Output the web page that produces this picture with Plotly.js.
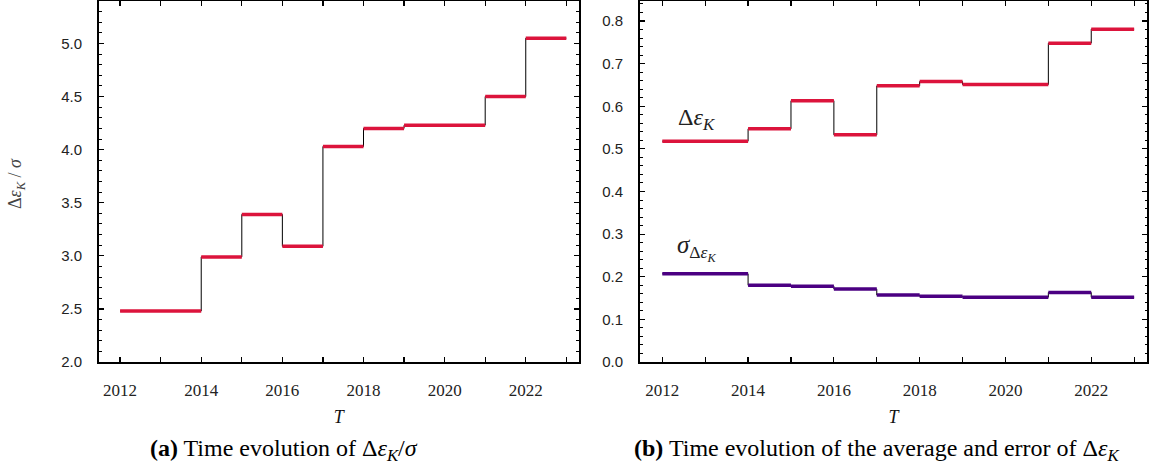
<!DOCTYPE html>
<html>
<head>
<meta charset="utf-8">
<script src="https://cdn.plot.ly/plotly-3.0.1.min.js"></script>
<style>html,body{margin:0;padding:0;background:#fff;}#chart{width:1150px;height:473px;}</style>
</head>
<body>
<div id="chart"></div>
<script>
// Segment edges (years) and values of each constant segment
const edges = [2012, 2014, 2015, 2016, 2017, 2018, 2019, 2021, 2022, 2023];
const ratioValues = [2.48, 2.99, 3.39, 3.09, 4.03, 4.20, 4.23, 4.50, 5.05];     // Δε_K/σ
const avgValues = [0.518, 0.547, 0.613, 0.533, 0.648, 0.658, 0.651, 0.748, 0.781]; // Δε_K
const errValues = [0.207, 0.180, 0.178, 0.171, 0.157, 0.154, 0.152, 0.163, 0.152]; // σ_Δε_K
const xTickVals = [2012, 2014, 2016, 2018, 2020, 2022];
const xTickText = ['2012', '2014', '2016', '2018', '2020', '2022'];

const RED = '#dc143c';
const PURPLE = '#4b0082';
const SERIF = 'Liberation Serif';

function stepTrace(vals, xa, ya) {
  return {
    x: edges.slice(), y: vals.concat([vals[vals.length - 1]]),
    xaxis: xa, yaxis: ya, mode: 'lines', line: {shape: 'hv', color: '#000', width: 1},
    hoverinfo: 'skip', showlegend: false
  };
}
function segTrace(vals, color, xa, ya) {
  const xs = [], ys = [];
  for (let i = 0; i < vals.length; i++) {
    xs.push(edges[i], edges[i + 1], null);
    ys.push(vals[i], vals[i], null);
  }
  return {x: xs, y: ys, xaxis: xa, yaxis: ya, mode: 'lines',
    line: {color: color, width: 3.5}, hoverinfo: 'skip', showlegend: false, connectgaps: false};
}

const data = [
  stepTrace(ratioValues, 'x', 'y'), segTrace(ratioValues, RED, 'x', 'y'),
  stepTrace(avgValues, 'x2', 'y2'), segTrace(avgValues, RED, 'x2', 'y2'),
  stepTrace(errValues, 'x2', 'y2'), segTrace(errValues, PURPLE, 'x2', 'y2')
];

const W = 1150, H = 473;
const px = v => v / W;
const py = v => 1 - v / H;

function xAxis(domain, anchor) {
  return {
    domain: domain, anchor: anchor, range: [2011.48, 2023.3],
    tickvals: xTickVals, ticktext: xTickText,
    ticks: 'inside', ticklen: 5, tickwidth: 1.2, tickcolor: '#000',
    minor: {dtick: 1, tick0: 2012, ticks: 'inside', ticklen: 5, tickwidth: 1.2, tickcolor: '#000'},
    showline: true, linecolor: '#000', linewidth: 2, mirror: 'ticks',
    showgrid: false, zeroline: false,
    tickfont: {family: SERIF, size: 17, color: '#222'},
    ticklabelstandoff: 12,
    title: {text: '<i>T</i>', font: {family: SERIF, size: 18, color: '#111'}, standoff: 11}
  };
}
function yAxis(domain, anchor, range, dtick, minorDtick) {
  return {
    domain: domain, anchor: anchor, range: range, dtick: dtick, tick0: 0,
    ticks: 'inside', ticklen: 5, tickwidth: 1.2, tickcolor: '#000',
    minor: {dtick: minorDtick, ticks: 'inside', ticklen: 2.5, tickwidth: 1, tickcolor: '#000'},
    showline: true, linecolor: '#000', linewidth: 2, mirror: 'ticks',
    showgrid: false, zeroline: false, tickformat: '.1f',
    tickfont: {family: 'Liberation Sans', size: 15, color: '#222'},
    ticklabelstandoff: 12
  };
}

function ann(text, x, y, size, color, extra) {
  return Object.assign({text: text, xref: 'paper', yref: 'paper', x: px(x), y: py(y),
    xanchor: 'center', yanchor: 'middle', showarrow: false,
    font: {family: SERIF, size: size, color: color}}, extra || {});
}

const yDom = [py(362), py(1)];
const layout = {
  width: W, height: H, margin: {l: 0, r: 0, t: 0, b: 0},
  paper_bgcolor: '#fff', plot_bgcolor: '#fff', showlegend: false,
  xaxis: xAxis([px(99), px(578.5)], 'y'),
  yaxis: yAxis(yDom, 'x', [2.0, 5.4], 0.5, 0.1),
  xaxis2: xAxis([px(640), px(1147)], 'y2'),
  yaxis2: yAxis(yDom, 'x2', [0, 0.847], 0.1, 0.02),
  annotations: [
    ann('Δ<i>ε</i><sub><i>K</i></sub> / <i>σ</i>', 17, 184, 18, '#444', {textangle: -90}),
    ann('Δ<i>ε</i><sub><i>K</i></sub>', 676, 119, 24, '#222', {xanchor: 'left'}),
    ann('<i>σ</i><sub>Δ<i>ε</i><sub><i>K</i></sub></sub>', 675, 248, 25, '#222', {xanchor: 'left'}),
    ann('<b>(a)</b> Time evolution of Δ<i>ε</i><sub><i>K</i></sub>/<i>σ</i>', 284, 450, 24, '#000'),
    ann('<b>(b)</b> Time evolution of the average and error of Δ<i>ε</i><sub><i>K</i></sub>', 876, 450, 24, '#000')
  ]
};

Plotly.newPlot('chart', data, layout, {staticPlot: true, displayModeBar: false});
</script>
</body>
</html>
